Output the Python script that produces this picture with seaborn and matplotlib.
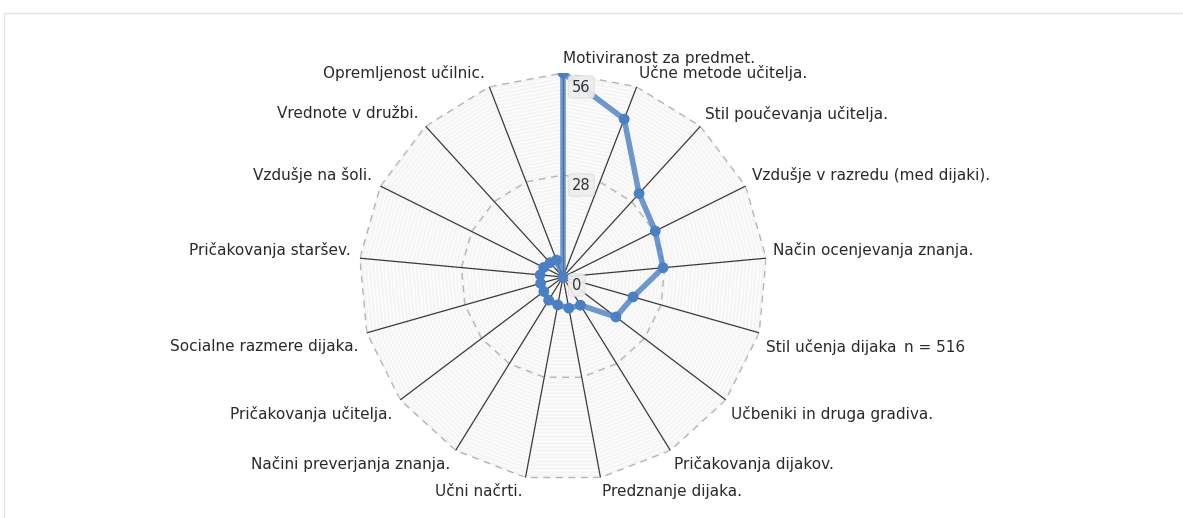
import numpy as np
import matplotlib
matplotlib.use("Agg")
import matplotlib.pyplot as plt
from matplotlib.patches import Rectangle
import seaborn as sns

categories = [
    "Motiviranost za predmet.", "Učne metode učitelja.", "Stil poučevanja učitelja.",
    "Vzdušje v razredu (med dijaki).", "Način ocenjevanja znanja.", "Stil učenja dijaka",
    "Učbeniki in druga gradiva.", "Pričakovanja dijakov.", "Predznanje dijaka.",
    "Učni načrti.", "Načini preverjanja znanja.", "Pričakovanja učitelja.",
    "Socialne razmere dijaka.", "Pričakovanja staršev.", "Vzdušje na šoli.",
    "Vrednote v družbi.", "Opremljenost učilnic.",
]
values = [56, 46.5, 31, 28.3, 27.6, 20, 18.2, 9.1, 8.7, 7.8, 7.5, 6.6, 6.4, 6.3, 5.9, 5.3, 5]
r_ticks = [0, 28, 56]
r_max = 56
note = "n = 516"

sns.set_theme(style="white")
plt.rcParams["font.family"] = ["DejaVu Sans"]

W, H = 1183, 518
fig = plt.figure(figsize=(W / 100, H / 100), dpi=100)
fig.patch.set_facecolor("white")

# thin frame around the chart area
fig.add_artist(Rectangle((4 / W, -0.1), 2.0, (H - 13) / H + 0.1,
                         transform=fig.transFigure, fill=False,
                         ec="#e2e2e2", lw=1.0))

cx, cy, rad = 563, 277, 204
ax = fig.add_axes([(cx - rad) / W, (H - cy - rad) / H, 2 * rad / W, 2 * rad / H],
                  projection="polar")
ax.set_theta_zero_location("N")
ax.set_theta_direction(-1)
ax.set_ylim(0, r_max)
ax.grid(False)
ax.set_xticks([])
ax.set_yticks([])
ax.spines["polar"].set_visible(False)
ax.set_facecolor("none")

n = len(categories)
thetas = np.arange(n) * 2 * np.pi / n
closed = np.append(thetas, thetas[0])

# plot band: light fill with fine concentric polygon rings
ax.fill(closed, [r_max] * (n + 1), color="#f5f5f5", zorder=0, lw=0)
for r in np.arange(1, r_max):
    ax.plot(closed, [r] * (n + 1), color="white", lw=0.7, zorder=0.5)

# dashed polygon grid
for r in r_ticks[1:]:
    ax.plot(closed, [r] * (n + 1), color="#b5b5b5", lw=1.0,
            ls=(0, (5, 4)), zorder=1)

# spokes
for t in thetas:
    ax.plot([t, t], [0, r_max], color="#3a3a3a", lw=0.9, zorder=2)

# series path: starts and ends at the origin
theta_path = np.concatenate([[thetas[0]], thetas, [thetas[-1]]])
r_path = np.concatenate([[0], values, [0]])
blue = "#4a7fc3"
sns.lineplot(x=theta_path, y=r_path, sort=False, ax=ax, color=blue,
             lw=4, alpha=0.8, zorder=3, estimator=None)
sns.scatterplot(x=np.append(thetas, 0), y=np.append(values, 0), ax=ax,
                color=blue, s=60, edgecolor="none", zorder=4)
ax.set_xlabel("")
ax.set_ylabel("")
ax.set_ylim(0, r_max)

# radial tick labels
tick_off = {0: -8, 28: -10, 56: -14}
for r in r_ticks:
    ax.annotate(str(r), xy=(0, r), xytext=(9, tick_off[r]),
                textcoords="offset pixels", ha="left", va="center",
                fontsize=10.5, color="#333333", zorder=6,
                bbox=dict(boxstyle="round,pad=0.25", fc="#eeeeee",
                          ec="#e0e0e0", lw=0.8, alpha=0.9))

# category labels
for t, lab in zip(thetas, categories):
    s, c = np.sin(t), np.cos(t)
    if s > 1e-6:
        ha, dx = "left", 7 * s
    elif s < -1e-6:
        ha, dx = "right", 7 * s - 2
    else:
        ha, dx = "left", 0
    dy = 8 + 6 * c if c > 0 else -14
    ax.annotate(lab, xy=(t, r_max), xytext=(dx, dy),
                textcoords="offset pixels", ha=ha, va="center",
                fontsize=11, color="#2a2a2a", annotation_clip=False, zorder=6)

fig.text(904 / W, 1 - 347 / H, note, ha="left", va="center",
         fontsize=11, color="#2a2a2a")

fig.savefig("out.png", dpi=100, facecolor="white")
